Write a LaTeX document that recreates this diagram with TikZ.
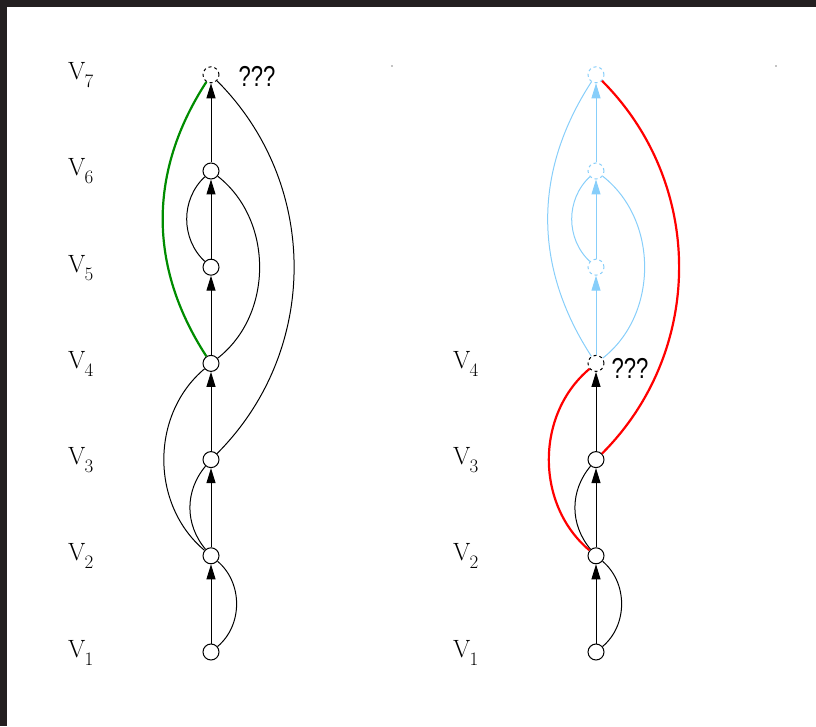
\documentclass[tikz,border=0pt]{standalone}
\usepackage{fontspec}
\newfontfamily\qfont{Liberation Sans}
\usetikzlibrary{arrows.meta}

\definecolor{frame}{RGB}{35,31,32}
\definecolor{sky}{RGB}{135,206,250}
\definecolor{leaf}{RGB}{0,140,0}

\newcommand{\vname}[1]{V\kern-1pt\raisebox{-8pt}{\fontsize{19}{19}\selectfont #1}}

\tikzset{
  vertex/.style={circle,draw,fill=white,inner sep=0pt,minimum size=16pt,line width=1pt},
  ghost/.style={vertex,dash pattern=on 3pt off 3pt},
  faded/.style={ghost,draw=sky},
  arc/.style={line width=1pt},
  thickarc/.style={line width=2.2pt},
  uparc/.style={arc,-{Triangle[length=15pt,width=9pt]}},
  vlabel/.style={anchor=base west,inner sep=0pt,font=\fontsize{25}{28}\selectfont},
  qlabel/.style={inner sep=0pt,font=\qfont\fontsize{24}{28}\selectfont}
}

\begin{document}
\begin{tikzpicture}[x=1pt,y=1pt]
  % --- Canvas ---
  \useasboundingbox (0,0) rectangle (816,726);
  \fill[frame] (0,719) rectangle (816,726);
  \fill[frame] (0,0) rectangle (7,726);
  \fill (392,660) circle (0.6);
  \fill (776,660) circle (0.6);

  % --- Parameters ---
  \def\xL{211}
  \def\xR{596}
  \def\ybot{74}
  \def\dy{96.2}

  % --- Left: labels and vertices ---
  \foreach \i in {1,...,7}{
    \node[vlabel] (nl\i) at (68,{\ybot+(\i-1)*\dy-5}) {\vname{\i}};
  }
  \foreach \i in {1,...,6}{
    \node[vertex] (l\i) at (\xL,{\ybot+(\i-1)*\dy}) {};
  }
  \node[ghost] (l7) at (\xL,{\ybot+6*\dy}) {};
  \node[qlabel] (ql) at (257,650) {\scalebox{0.92}[1.2]{???}};

  % --- Left: edges ---
  \foreach \a/\b in {1/2,2/3,3/4,4/5,5/6,6/7}
    \draw[uparc] (l\a) -- (l\b);
  \draw[arc] (l1) to[out=40,in=-40] (l2);
  \draw[arc] (l2) to[out=130,in=-130] (l3);
  \draw[arc] (l2) to[out=140,in=-140] (l4);
  \draw[arc] (l3) to[out=45,in=-45] (l7);
  \draw[arc] (l4) to[out=38,in=-38] (l6);
  \draw[arc] (l5) to[out=137,in=-137] (l6);
  \draw[thickarc,leaf] (l4) to[out=123,in=-123] (l7);

  % --- Right: labels and vertices ---
  \foreach \i in {1,...,4}{
    \node[vlabel] (nr\i) at (453,{\ybot+(\i-1)*\dy-5}) {\vname{\i}};
  }
  \foreach \i in {1,...,3}{
    \node[vertex] (r\i) at (\xR,{\ybot+(\i-1)*\dy}) {};
  }
  \node[ghost] (r4) at (\xR,{\ybot+3*\dy}) {};
  \foreach \i in {5,6,7}{
    \node[faded] (r\i) at (\xR,{\ybot+(\i-1)*\dy}) {};
  }
  \node[qlabel] (qr) at (630,358) {\scalebox{0.92}[1.2]{???}};

  % --- Right: edges ---
  \foreach \a/\b in {1/2,2/3,3/4}
    \draw[uparc] (r\a) -- (r\b);
  \foreach \a/\b in {4/5,5/6,6/7}
    \draw[uparc,sky] (r\a) -- (r\b);
  \draw[arc] (r1) to[out=40,in=-40] (r2);
  \draw[arc] (r2) to[out=130,in=-130] (r3);
  \draw[arc,sky] (r4) to[out=38,in=-38] (r6);
  \draw[arc,sky] (r5) to[out=137,in=-137] (r6);
  \draw[arc,sky] (r4) to[out=123,in=-123] (r7);
  \draw[thickarc,red] (r2) to[out=140,in=-140] (r4);
  \draw[thickarc,red] (r3) to[out=45,in=-45] (r7);
\end{tikzpicture}
\end{document}
